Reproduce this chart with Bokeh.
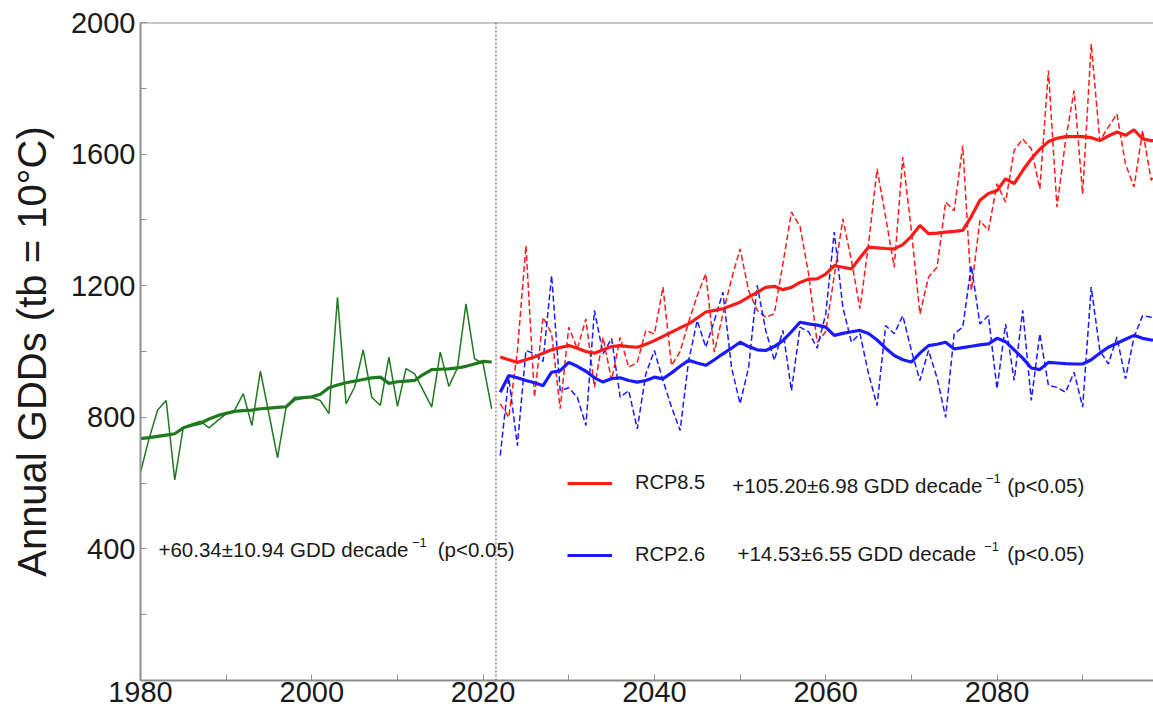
from bokeh.plotting import figure
from bokeh.models import (Range1d, FixedTicker, Span, Label, Legend, LegendItem)
from bokeh.embed import file_html
from bokeh.resources import INLINE

# ---------------- data ----------------
years_hist = list(range(1980, 2022))
gdd_hist = [633, 735, 822, 851, 610, 770, 780, 788, 768, 790,
            810, 822, 872, 775, 940, 810, 677, 831, 861, 861,
            860, 851, 811, 1165, 841, 892, 1005, 861, 836, 983,
            833, 948, 932, 882, 831, 998, 894, 950, 1145, 978,
            963, 826]
gdd_hist_smooth = [735, 738, 742, 746, 750, 768, 776, 782, 795, 805,
                   812, 818, 820, 822, 826, 828, 830, 832, 855, 860,
                   862, 870, 890, 898, 905, 910, 915, 920, 922, 903,
                   908, 910, 912, 930, 945, 946, 947, 950, 955, 962,
                   970, 968]

years_fut = list(range(2022, 2100))
rcp85 = [841, 800, 1000, 1322, 861, 1104, 1054, 826, 1074, 1008,
         1099, 891, 1043, 912, 1043, 952, 967, 1064, 1053, 1196,
         957, 1000, 1090, 1170, 1236, 998, 1114, 1220, 1312, 1185,
         1125, 1104, 1115, 1266, 1424, 1380, 1236, 1028, 1060, 1230,
         1403, 1277, 1130, 1327, 1555, 1408, 1256, 1591, 1368, 1114,
         1226, 1256, 1454, 1428, 1626, 1185, 1398, 1368, 1510, 1454,
         1611, 1646, 1616, 1494, 1854, 1439, 1641, 1793, 1479, 1935,
         1641, 1682, 1722, 1570, 1500, 1672, 1520, 1560]
rcp85_smooth = [983, 975, 967, 975, 983, 995, 1005, 1012, 1018, 1010,
                1000, 995, 1005, 1015, 1018, 1015, 1013, 1022, 1033, 1046,
                1059, 1072, 1084, 1102, 1120, 1125, 1130, 1140, 1150, 1165,
                1180, 1195, 1198, 1188, 1195, 1210, 1220, 1221, 1235, 1261,
                1256, 1251, 1285, 1317, 1315, 1313, 1312, 1325, 1350, 1383,
                1358, 1360, 1363, 1365, 1368, 1410, 1460, 1480, 1489, 1525,
                1510, 1550, 1586, 1615, 1638, 1648, 1653, 1653, 1653, 1650,
                1641, 1655, 1667, 1657, 1674, 1646, 1641, 1641]
rcp26 = [684, 920, 714, 1003, 993, 970, 1231, 881, 890, 861,
         775, 1125, 993, 1040, 861, 881, 765, 932, 1003, 912,
         831, 760, 973, 1094, 1013, 1094, 1180, 952, 841, 952,
         1201, 1064, 973, 1064, 881, 1074, 1060, 1010, 1114, 1363,
         1135, 1028, 1054, 932, 836, 1079, 1054, 1109, 1003, 912,
         1003, 920, 800, 1054, 1074, 1261, 1084, 1109, 886, 1084,
         912, 1125, 851, 1054, 897, 891, 876, 937, 831, 1196,
         1003, 962, 1044, 917, 1044, 1109, 1104, 1100]
rcp26_smooth = [876, 927, 920, 912, 905, 896, 937, 942, 967, 955,
                940, 920, 907, 918, 920, 912, 907, 912, 922, 917,
                935, 955, 973, 965, 958, 975, 993, 1010, 1028, 1015,
                1005, 1003, 1015, 1033, 1060, 1089, 1084, 1080, 1074, 1049,
                1055, 1060, 1064, 1055, 1035, 1010, 988, 975, 968, 995,
                1018, 1022, 1028, 1008, 1012, 1016, 1020, 1023, 1040, 1030,
                1005, 980, 950, 945, 967, 965, 963, 962, 962, 975,
                995, 1013, 1025, 1037, 1049, 1040, 1035, 1035]

y_ticks = [400, 800, 1200, 1600, 2000]
y_minor = [200, 600, 1000, 1400, 1800]
x_ticks = [1980, 2000, 2020, 2040, 2060, 2080]
x_minor = [1990, 2010, 2030, 2050, 2070, 2090]

hist_text = "+60.34\u00b110.94 GDD decade"
rcp85_label = "RCP8.5"
rcp85_text = "+105.20\u00b16.98 GDD decade"
rcp26_label = "RCP2.6"
rcp26_text = "+14.53\u00b16.55 GDD decade"
sup_text = "\u22121"
p_text = "(p<0.05)"

GREEN = "#1f7a1f"
RED = "#ff1a1a"
BLUE = "#1a1aff"
FONT = "Liberation Sans"

# ---------------- figure ----------------
p = figure(width=1153, height=711,
           x_range=Range1d(1980, 2098.27), y_range=Range1d(0, 2000),
           output_backend="svg", toolbar_location=None,
           min_border_left=140, min_border_right=0,
           min_border_top=22, min_border_bottom=31)
p.grid.visible = False
p.outline_line_color = None
p.background_fill_color = "white"

for ax in (p.xaxis[0], p.yaxis[0]):
    ax.axis_line_color = "#8f8f8f"
    ax.axis_line_width = 2
    ax.major_tick_line_color = "#8f8f8f"
    ax.minor_tick_line_color = "#8f8f8f"
    ax.major_tick_in = 6
    ax.major_tick_out = 0
    ax.minor_tick_in = 6
    ax.minor_tick_out = 0
    ax.major_label_text_font = FONT
    ax.major_label_text_font_size = "29px"
    ax.major_label_text_color = "#1a1a1a"

p.xaxis.ticker = FixedTicker(ticks=x_ticks, minor_ticks=x_minor)
p.yaxis.ticker = FixedTicker(ticks=y_ticks, minor_ticks=y_minor)
p.xaxis.major_label_standoff = 1
p.yaxis.major_label_standoff = 5

p.yaxis.axis_label = "Annual GDDs (tb = 10\u00b0C)"
p.yaxis.axis_label_text_font = FONT
p.yaxis.axis_label_text_font_size = "40px"
p.yaxis.axis_label_text_font_style = "normal"
p.yaxis.axis_label_text_color = "#1a1a1a"
p.yaxis.axis_label_standoff = 14

# top frame line and period separator
p.add_layout(Span(location=2000, dimension="width", line_color="#8f8f8f", line_width=2))
p.add_layout(Span(location=2021.5, dimension="height", line_color="#555555",
                  line_width=1, line_dash="2 2"))

# ---------------- series ----------------
p.line(years_hist, gdd_hist, line_color=GREEN, line_width=1.5)
p.line(years_hist, gdd_hist_smooth, line_color=GREEN, line_width=3.2)

p.line(years_fut, rcp85, line_color=RED, line_width=1.5, line_dash="6 3")
p.line(years_fut, rcp26, line_color=BLUE, line_width=1.5, line_dash="6 3")
r85 = p.line(years_fut, rcp85_smooth, line_color=RED, line_width=3.2)
r26 = p.line(years_fut, rcp26_smooth, line_color=BLUE, line_width=3.2)

legend = Legend(items=[LegendItem(label=rcp85_label, renderers=[r85]),
                       LegendItem(label=rcp26_label, renderers=[r26])],
                location=(427, 114), orientation="vertical",
                padding=0, margin=0, spacing=49,
                glyph_width=45, glyph_height=20, label_height=20,
                label_standoff=23, border_line_color=None,
                background_fill_alpha=0,
                label_text_font=FONT, label_text_font_size="20px",
                label_text_color="#1a1a1a")
p.add_layout(legend)

# ---------------- annotations ----------------
def add_text(x, y, txt, size="20.5px"):
    p.add_layout(Label(x=x, y=y, text=txt, text_font=FONT, text_font_size=size,
                       text_color="#1a1a1a", text_baseline="middle",
                       text_align="left"))

add_text(1982.1, 398, hist_text)
add_text(2011.7, 419, sup_text, "13px")
add_text(2014.7, 398, p_text)

add_text(2049.1, 594, rcp85_text)
add_text(2078.7, 615, sup_text, "13px")
add_text(2081.2, 594, p_text)

add_text(2049.7, 386, rcp26_text)
add_text(2078.5, 408, sup_text, "13px")
add_text(2081.2, 386, p_text)

open("out.html", "w").write(file_html(p, INLINE))
